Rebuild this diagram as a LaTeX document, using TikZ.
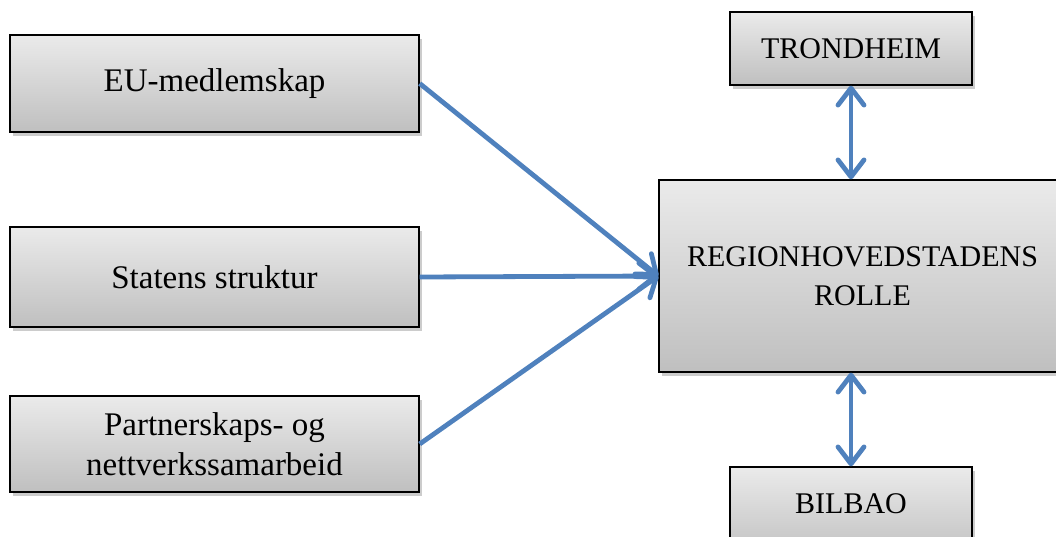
\documentclass[tikz,border=0pt]{standalone}
\usepackage{fontspec}
\setmainfont{Liberation Serif}
\usetikzlibrary{arrows.meta,shadows}
\definecolor{arrowblue}{HTML}{4F81BD}
\tikzset{
  box/.style={draw=black, line width=1.4pt, rectangle, inner sep=0pt, align=center,
    top color=black!8, bottom color=black!25,
    drop shadow={shadow xshift=3pt, shadow yshift=-4pt, opacity=0.2, fill=black}},
  capsfont/.style={font=\fontsize{30}{39}\selectfont},
  lowfont/.style={font=\fontsize{33}{40}\selectfont},
  link/.style={draw=arrowblue, line width=4.8pt,
    -{Straight Barb[length=17pt, width=26pt, round]}},
  biline/.style={draw=arrowblue, line width=4.8pt,
    {Straight Barb[length=17pt, width=26pt, round]}-{Straight Barb[length=17pt, width=26pt, round]}}
}
\begin{document}
\begin{tikzpicture}[x=1pt, y=-1pt]
\useasboundingbox (0,0) rectangle (1056,537);
\node[box, lowfont, minimum width=409pt, minimum height=97pt] (eu) at (214.5,83.5) {EU-medlemskap};
\node[box, lowfont, minimum width=409pt, minimum height=100pt] (st) at (214.5,277) {Statens struktur};
\node[box, lowfont, minimum width=409pt, minimum height=96pt] (pn) at (214.5,444) {Partnerskaps- og\\nettverkssamarbeid};
\node[box, capsfont, minimum width=242pt, minimum height=73pt] (tr) at (851,48.5) {TRONDHEIM};
\node[box, capsfont, minimum width=407pt, minimum height=192pt] (rh) at (862.5,276) {REGIONHOVEDSTADENS\\ROLLE};
\node[box, minimum width=242pt, minimum height=92pt] (bi) at (851,513) {};
\node[capsfont] (bit) at (851,504) {BILBAO};
\draw[link] (eu.east) -- (rh.west);
\draw[link] (st.east) -- (rh.west);
\draw[link] (pn.east) -- (rh.west);
\draw[biline] (tr.south) -- (tr.south |- rh.north);
\draw[biline] (bi.north |- rh.south) -- (bi.north);
\end{tikzpicture}
\end{document}
